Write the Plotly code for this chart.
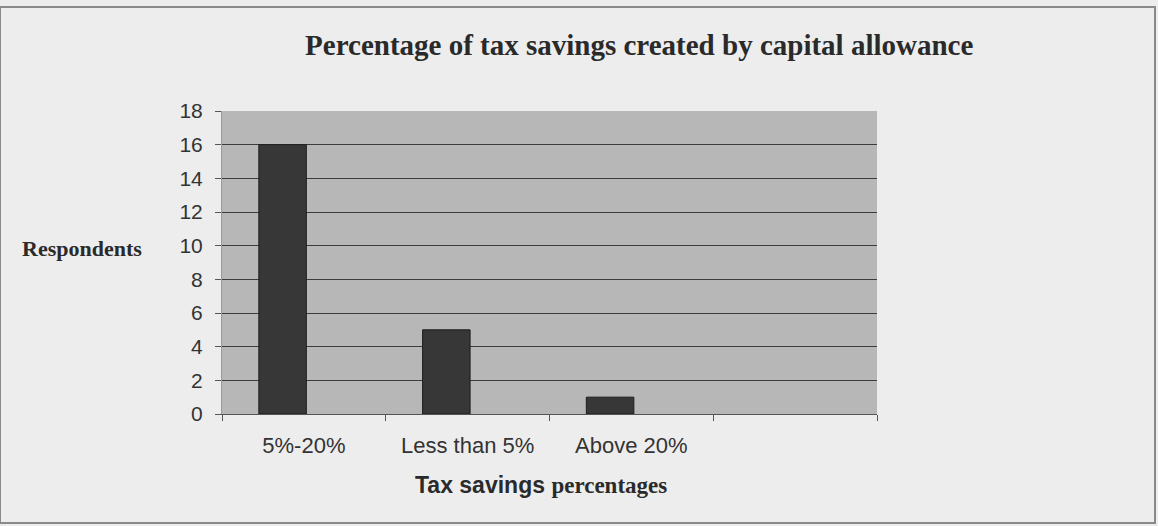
import plotly.graph_objects as go

# Survey responses: share of tax savings from capital allowance
categories = ["5%-20%", "Less than 5%", "Above 20%", " "]
respondents = [16, 5, 1, None]
y_ticks = [0, 2, 4, 6, 8, 10, 12, 14, 16, 18]

fig = go.Figure()

fig.add_trace(go.Bar(
    x=categories,
    y=respondents,
    width=0.29,
    offset=-0.275,
    marker=dict(color="#373737", line=dict(color="#1e1e1e", width=1)),
    showlegend=False,
))

fig.update_layout(
    width=1158,
    height=526,
    margin=dict(l=222, r=281, t=111, b=112),
    paper_bgcolor="#ededed",
    plot_bgcolor="#b7b7b7",
    title=dict(
        text="<b>Percentage of tax savings created by capital allowance</b>",
        font=dict(family="Liberation Serif", size=29, color="#2a2a2a"),
        x=0.552, xanchor="center",
        y=0.915, yanchor="middle",
    ),
    font=dict(family="Liberation Sans", color="#333333"),
    shapes=[
        dict(type="rect", xref="paper", yref="paper",
             x0=-222 / 655, x1=(1155 - 222) / 655,
             y0=(414 - 523) / 303, y1=(414 - 7) / 303,
             line=dict(color="#8a8a8a", width=2), fillcolor="rgba(0,0,0,0)",
             layer="below"),
    ],
    annotations=[
        dict(text="<b>Respondents</b>", xref="paper", yref="paper",
             x=(82 - 222) / 655, y=(414 - 248) / 303,
             xanchor="center", yanchor="middle", showarrow=False,
             font=dict(family="Liberation Serif", size=22, color="#2a2a2a")),
        dict(text="<b>Tax savings</b> <span style='font-family:Liberation Serif'><b>percentages</b></span>",
             xref="paper", yref="paper",
             x=(541 - 222) / 655, y=(414 - 485) / 303,
             xanchor="center", yanchor="middle", showarrow=False,
             font=dict(family="Liberation Sans", size=23, color="#2a2a2a")),
    ],
)

fig.update_xaxes(
    type="category",
    categoryorder="array",
    categoryarray=categories,
    range=[-0.5, 3.5],
    tickson="boundaries",
    ticks="outside",
    ticklen=6,
    tickcolor="#555555",
    ticklabelstandoff=12,
    showgrid=False,
    showline=True,
    linecolor="#555555",
    linewidth=1,
    tickfont=dict(family="Liberation Sans", size=22, color="#333333"),
    fixedrange=True,
)

fig.update_yaxes(
    range=[0, 18],
    tickvals=y_ticks,
    ticks="outside",
    ticklen=6,
    tickcolor="#555555",
    ticklabelstandoff=8,
    showgrid=True,
    gridcolor="#3c3c3c",
    gridwidth=1,
    zeroline=False,
    showline=True,
    linecolor="#9a9a9a",
    tickfont=dict(family="Liberation Sans", size=21, color="#333333"),
    fixedrange=True,
)

fig.write_html("out.html")
